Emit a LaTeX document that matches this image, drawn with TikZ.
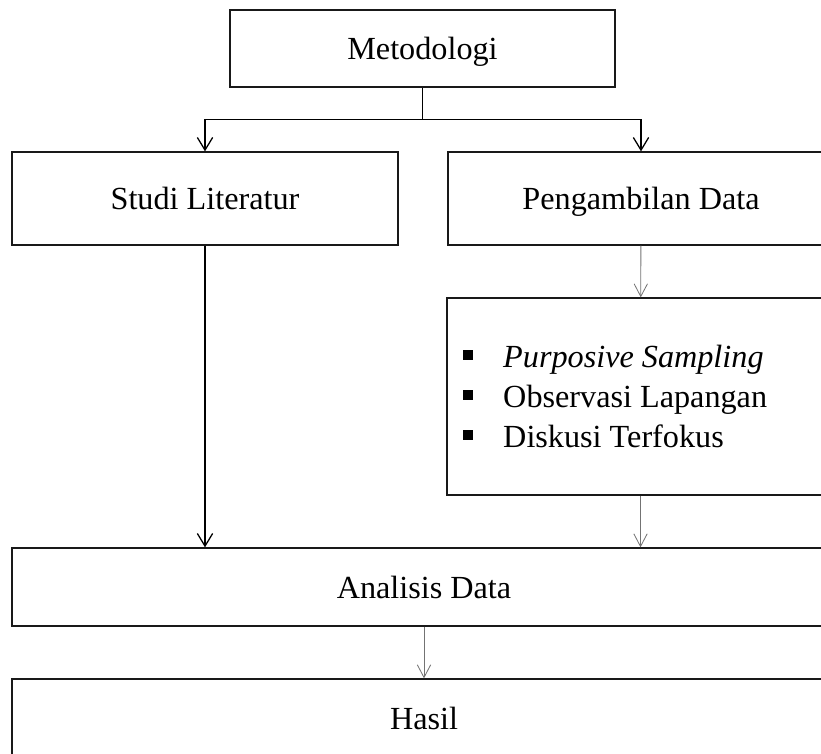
\documentclass[tikz,border=0pt]{standalone}
\usepackage{fontspec}
\setmainfont{Liberation Serif}
\usetikzlibrary{arrows.meta}
\usetikzlibrary{positioning}
\tikzset{kotak/.style = {draw=black!90, line width=1.1pt, inner sep=0,
                         text height=0.86cm, text depth=0.2cm,
                         font=\fontsize{27.5}{34}\selectfont}}
\tikzset{panah/.style = {draw=black, line width=1.1pt,
                         -{Straight Barb[length=0.38cm, width=0.46cm, line width=1.1pt]}}}
\tikzset{panahabu/.style = {draw=black!55, line width=0.7pt,
                            -{Straight Barb[length=0.38cm, width=0.4cm, line width=0.7pt]}}}
\tikzset{butir/.style = {anchor=base west, inner sep=0,
                         font=\fontsize{27.5}{34}\selectfont}}
\newcommand{\kotakhitam}{\rule[0.21cm]{0.3cm}{0.3cm}}

\begin{document}
\begin{tikzpicture}
  \clip (0, 0) rectangle (24.63, -22.59);

  \node [kotak, minimum width=11.55cm, minimum height=2.31cm] (metodologi) at (12.675, -1.455) {Metodologi};
  \node [kotak, minimum width=11.58cm, minimum height=2.79cm] (studi) at (6.15, -5.955) {Studi Literatur};
  \node [kotak, minimum width=11.58cm, minimum height=2.79cm] (ambil) at (19.23, -5.955) {Pengambilan Data};
  \node [kotak, minimum width=11.61cm, minimum height=5.91cm] (daftar) at (19.215, -11.895) {};
  \node [kotak, minimum width=24.72cm, minimum height=2.34cm] (analisis) at (12.72, -17.61) {Analisis Data};
  \node [kotak, minimum width=24.72cm, minimum height=2.34cm] (hasil) at (12.72, -21.54) {Hasil};

  % isi kotak daftar
  \foreach \teks [count=\i] in {{\textit{Purposive Sampling}}, Observasi Lapangan, Diskusi Terfokus}
    \node [butir] (butir\i) at (13.89, -11.01 - 1.2*\i + 1.2) {\makebox[1.2cm][l]{\kotakhitam}\teks};

  % percabangan
  \coordinate (cabang) at ([yshift=-0.96cm] metodologi.south);
  \draw [line width=1.1pt] (metodologi.south) -- (cabang);
  \draw [panah] (cabang) -| (studi.north);
  \draw [panah] (cabang) -| (ambil.north);

  \draw [panahabu] (ambil) -- (daftar);
  \draw [panah] (studi.south) -- (studi.south |- analisis.north);
  \draw [panahabu] (daftar.south) -- (daftar.south |- analisis.north);
  \draw [panahabu] (analisis.south) -- (analisis.south |- hasil.north);
\end{tikzpicture}
\end{document}
